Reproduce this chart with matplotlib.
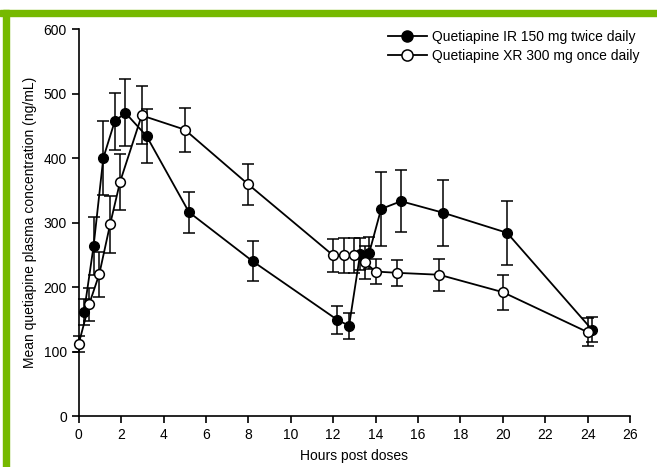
import numpy as np
import matplotlib
matplotlib.use('Agg')
import matplotlib.pyplot as plt
from matplotlib.patches import Rectangle
from matplotlib.lines import Line2D

plt.rcParams.update({
    'font.family': ['Liberation Sans', 'DejaVu Sans'],
    'font.size': 10,
})

# ── Data ──────────────────────────────────────────────────────────────────────
ir_hours = [0.25, 0.7, 1.16, 1.7, 2.2, 3.2, 5.2, 8.2, 12.2, 12.75, 13.27, 13.7,
            14.26, 15.2, 17.2, 20.2, 24.2]
ir_conc  = [161, 263, 400, 457, 470, 434, 316, 240, 149, 140, 251, 253,
            321, 333, 315, 284, 134]
ir_err   = [20, 45, 57, 44, 52, 42, 32, 31, 22, 20, 25, 25,
            57, 48, 51, 50, 20]

xr_hours = [0, 0.49, 0.97, 1.48, 1.95, 2.97, 5.0, 8.0, 12.0, 12.5, 13.0, 13.5,
            14.0, 15.0, 17.0, 20.0, 24.0]
xr_conc  = [112, 173, 220, 297, 363, 466, 444, 359, 249, 249, 249, 238,
            224, 222, 219, 192, 130]
xr_err   = [12, 25, 35, 44, 43, 45, 34, 32, 26, 27, 27, 25,
            20, 20, 25, 27, 22]

labels = ['Quetiapine IR 150 mg twice daily', 'Quetiapine XR 300 mg once daily']
x_ticks = np.arange(0, 27, 2)
y_ticks = np.arange(0, 601, 100)

# ── Figure ────────────────────────────────────────────────────────────────────
fig = plt.figure(figsize=(6.57, 4.67), dpi=100)
ax = fig.add_axes([0.1198, 0.1092, 0.8392, 0.8287])

# green frame (top and left edges)
fig.patches.append(Rectangle((0, 1 - 16 / 467), 1, 6 / 467, transform=fig.transFigure,
                             color='#76b900', zorder=0))
fig.patches.append(Rectangle((3 / 657, 0), 6 / 657, 1 - 10 / 467, transform=fig.transFigure,
                             color='#76b900', zorder=0))

common = dict(color='black', lw=1.3, ms=7, capsize=4, elinewidth=1.1,
              capthick=1.1, clip_on=False)
ax.errorbar(ir_hours, ir_conc, yerr=ir_err, marker='o', mfc='black', mec='black',
            zorder=3, **common)
ax.errorbar(xr_hours, xr_conc, yerr=xr_err, marker='o', mfc='white', mec='black',
            mew=1.1, zorder=4, **common)

ax.set_xlim(0, 26)
ax.set_ylim(0, 600)
ax.set_xticks(x_ticks)
ax.set_yticks(y_ticks)
ax.spines[['top', 'right']].set_visible(False)
ax.spines[['left', 'bottom']].set_linewidth(1.2)
ax.tick_params(direction='out', length=5, width=1.2, labelsize=10)

ax.set_xlabel('Hours post doses', fontsize=10, labelpad=5)
ax.set_ylabel('Mean quetiapine plasma concentration (ng/mL)', fontsize=10, labelpad=5)

handles = [
    Line2D([], [], color='black', lw=1.3, marker='o', ms=8, mfc='black', mec='black'),
    Line2D([], [], color='black', lw=1.3, marker='o', ms=8, mfc='white', mec='black', mew=1.1),
]
ax.legend(handles, labels, loc='upper right', bbox_to_anchor=(1.04, 1.03), frameon=False,
          fontsize=10, handlelength=2.8, handletextpad=0.4, labelspacing=0.35)

fig.savefig('out.png', dpi=100)
